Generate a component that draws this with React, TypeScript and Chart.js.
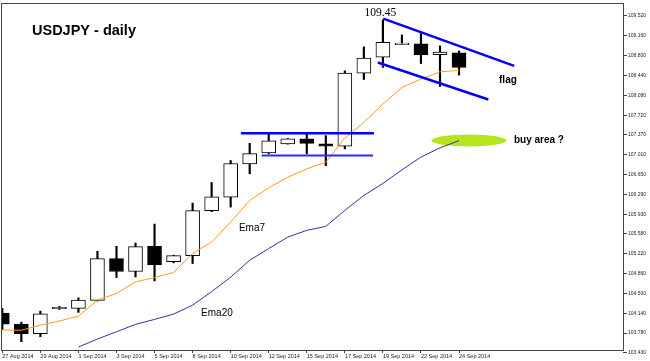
import React, { useEffect, useRef } from 'react';
import { Chart, registerables } from 'chart.js';

Chart.register(...registerables);

// ---- data ----
const dateTickIndex = [0, 2, 4, 6, 8, 10, 12, 14, 16, 18, 20, 22, 24];
const dateLabels = [
  '27 Aug 2014', '29 Aug 2014', '1 Sep 2014', '3 Sep 2014', '5 Sep 2014', '8 Sep 2014',
  '10 Sep 2014', '12 Sep 2014', '15 Sep 2014', '17 Sep 2014', '19 Sep 2014', '22 Sep 2014', '24 Sep 2014',
];
const priceTicks = [
  109.52, 109.16, 108.8, 108.44, 108.08, 107.72, 107.37, 107.01, 106.65,
  106.29, 105.93, 105.58, 105.22, 104.86, 104.5, 104.14, 103.78, 103.43,
];

const opens = [
  104.141, 103.942, 103.767, 104.22, 104.226, 104.37, 105.128, 104.894, 105.35, 105.074,
  105.182, 105.995, 106.24, 106.843, 107.042, 107.204, 107.294, 107.204, 107.161, 108.486,
  108.775, 109.0, 109.015, 108.821, 108.852,
];
const closes = [
  103.942, 103.767, 104.128, 104.23, 104.376, 105.128, 104.894, 105.345, 105.013, 105.182,
  105.995, 106.247, 106.849, 107.029, 107.258, 107.294, 107.215, 107.161, 108.486, 108.756,
  109.045, 109.03, 108.821, 108.865, 108.587,
];
const highs = [
  104.226, 103.978, 104.177, 104.262, 104.417, 105.26, 105.35, 105.41, 105.753, 105.19,
  106.132, 106.506, 106.903, 107.215, 107.385, 107.3, 107.385, 107.354, 108.527, 108.96,
  109.45, 109.177, 109.2, 108.978, 108.888,
];
const lows = [
  103.847, 103.623, 103.713, 104.208, 104.154, 104.36, 104.785, 104.796, 104.724, 105.05,
  105.038, 105.977, 106.06, 106.663, 107.024, 107.2, 107.024, 106.812, 107.114, 108.37,
  108.587, 109.0, 108.659, 108.244, 108.45,
];

const ema7 = [
  103.835, 103.83, 103.924, 103.997, 104.087, 104.376, 104.497, 104.706, 104.785, 104.876,
  105.219, 105.428, 105.789, 106.181, 106.41, 106.601, 106.753, 106.872, 107.312, 107.594,
  107.926, 108.226, 108.377, 108.509, 108.536,
];
const ema20Start = 4;
const ema20 = [
  103.527, 103.672, 103.803, 103.937, 104.027, 104.123, 104.285, 104.529, 104.791, 105.098,
  105.309, 105.518, 105.639, 105.711, 106.0, 106.271, 106.488, 106.735, 106.966, 107.132,
  107.264,
];

// annotation objects in data coordinates (bar index, price)
const trendLines = [
  { x1: 12.54, y1: 107.395, x2: 19.53, y2: 107.395, width: 2.5, color: '#0000ff' },
  { x1: 13.63, y1: 106.993, x2: 19.48, y2: 106.993, width: 2, color: '#2a2aff' },
  { x1: 20.02, y1: 109.471, x2: 26.9, y2: 108.617, width: 2.5, color: '#0000ff' },
  { x1: 19.73, y1: 108.677, x2: 25.54, y2: 108.009, width: 2.5, color: '#0000ff' },
];
const buyArea = { x1: 22.55, x2: 26.49, y1: 107.159, y2: 107.375, color: '#b5e61d' };
const notes = [
  { text: '109.45', x: 19.87, y: 109.574, font: '11.5px "Liberation Serif"' },
  { text: 'flag', x: 26.57, y: 108.356, font: 'bold 10px "Liberation Sans"' },
  { text: 'buy area ?', x: 28.2, y: 107.273, font: 'bold 10px "Liberation Sans"' },
  { text: 'Ema7', x: 13.12, y: 105.675, font: '10px "Liberation Sans"' },
  { text: 'Ema20', x: 11.28, y: 104.141, font: '10px "Liberation Sans"' },
];
const titleText = 'USDJPY - daily';

const overlayPlugin = {
  id: 'mt4Overlay',
  beforeDatasetsDraw(chart: any) {
    const { ctx, chartArea, scales } = chart;
    const xs = scales.x;
    const ys = scales.y;
    ctx.save();
    ctx.beginPath();
    ctx.rect(chartArea.left, chartArea.top, chartArea.right - chartArea.left, chartArea.bottom - chartArea.top);
    ctx.clip();
    const cx = xs.getPixelForValue((buyArea.x1 + buyArea.x2) / 2);
    const cy = ys.getPixelForValue((buyArea.y1 + buyArea.y2) / 2);
    const rx = Math.abs(xs.getPixelForValue(buyArea.x2) - xs.getPixelForValue(buyArea.x1)) / 2;
    const ry = Math.abs(ys.getPixelForValue(buyArea.y2) - ys.getPixelForValue(buyArea.y1)) / 2;
    ctx.beginPath();
    ctx.ellipse(cx, cy, rx, ry, 0, 0, Math.PI * 2);
    ctx.fillStyle = buyArea.color;
    ctx.fill();
    ctx.restore();
  },
  afterDatasetsDraw(chart: any) {
    const { ctx, chartArea, scales } = chart;
    const xs = scales.x;
    const ys = scales.y;
    ctx.save();
    ctx.beginPath();
    ctx.rect(chartArea.left, chartArea.top, chartArea.right - chartArea.left, chartArea.bottom - chartArea.top);
    ctx.clip();
    for (const l of trendLines) {
      ctx.beginPath();
      ctx.moveTo(xs.getPixelForValue(l.x1), ys.getPixelForValue(l.y1));
      ctx.lineTo(xs.getPixelForValue(l.x2), ys.getPixelForValue(l.y2));
      ctx.lineWidth = l.width;
      ctx.strokeStyle = l.color;
      ctx.stroke();
    }
    ctx.fillStyle = '#000';
    ctx.textAlign = 'center';
    ctx.textBaseline = 'middle';
    for (const n of notes) {
      ctx.font = n.font;
      ctx.fillText(n.text, xs.getPixelForValue(n.x), ys.getPixelForValue(n.y));
    }
    ctx.restore();
  },
  afterDraw(chart: any) {
    const { ctx, chartArea } = chart;
    ctx.save();
    ctx.strokeStyle = '#444';
    ctx.lineWidth = 1;
    const l = Math.round(chartArea.left) - 0.5;
    const t = Math.round(chartArea.top) - 0.5;
    const r = Math.round(chartArea.right) + 0.5;
    const b = Math.round(chartArea.bottom) + 0.5;
    ctx.strokeRect(l, t, r - l, b - t);
    ctx.fillStyle = '#000';
    ctx.font = 'bold 14.5px "Liberation Sans"';
    ctx.textAlign = 'left';
    ctx.textBaseline = 'alphabetic';
    ctx.fillText(titleText, 32, 35);
    ctx.restore();
  },
};

export default function App() {
  const ref = useRef<HTMLCanvasElement | null>(null);

  useEffect(() => {
    document.body.style.margin = '0';
    const canvas = ref.current;
    if (!canvas) return;
    const bodyColors = opens.map((o, i) => (closes[i] >= o ? '#ffffff' : '#000000'));
    const chart = new Chart(canvas, {
      type: 'bar',
      data: {
        datasets: [
          {
            type: 'line',
            label: 'Ema7',
            data: ema7.map((v, i) => ({ x: i, y: v })),
            borderColor: '#ff9a1a',
            borderWidth: 1,
            pointRadius: 0,
            tension: 0,
          } as any,
          {
            type: 'line',
            label: 'Ema20',
            data: ema20.map((v, k) => ({ x: k + ema20Start, y: v })),
            borderColor: '#3232a0',
            borderWidth: 1,
            pointRadius: 0,
            tension: 0,
          } as any,
          {
            type: 'bar',
            label: 'body',
            data: opens.map((o, i) => ({ x: i, y: [o, closes[i]] })),
            backgroundColor: bodyColors,
            borderColor: '#000000',
            borderWidth: 1,
            borderSkipped: false,
            barThickness: 14,
            grouped: false,
            minBarLength: 1.5,
          } as any,
          {
            type: 'bar',
            label: 'wick',
            data: lows.map((lo, i) => ({ x: i, y: [lo, highs[i]] })),
            backgroundColor: '#000000',
            borderWidth: 0,
            barThickness: 1.5,
            grouped: false,
          } as any,
        ],
      },
      options: {
        animation: false,
        responsive: false,
        maintainAspectRatio: false,
        events: [],
        layout: { padding: { left: 2, top: 3, right: 0, bottom: 0 } },
        plugins: {
          legend: { display: false },
          tooltip: { enabled: false },
        },
        scales: {
          x: {
            type: 'linear',
            min: -0.016,
            max: 32.617,
            offset: false,
            grid: { display: true, drawOnChartArea: false, drawTicks: true, tickLength: 3, color: '#444', offset: false },
            border: { display: false },
            ticks: {
              autoSkip: false,
              maxRotation: 0,
              minRotation: 0,
              align: 'start',
              padding: 0,
              color: '#222',
              font: { family: 'Liberation Sans', size: 5.5 },
              callback: (_v: any, i: number) => dateLabels[i],
            },
            afterBuildTicks: (s: any) => {
              s.ticks = dateTickIndex.map((v) => ({ value: v }));
            },
            afterFit: (s: any) => {
              s.height = 11;
            },
          } as any,
          y: {
            type: 'linear',
            position: 'right',
            min: 103.473,
            max: 109.737,
            grid: { display: true, drawOnChartArea: false, drawTicks: true, tickLength: 4, color: '#444' },
            border: { display: false },
            ticks: {
              padding: 1,
              color: '#222',
              font: { family: 'Liberation Sans', size: 5 },
              callback: (v: any) => Number(v).toFixed(3),
            },
            afterBuildTicks: (s: any) => {
              s.ticks = priceTicks.map((v) => ({ value: v }));
            },
            afterFit: (s: any) => {
              s.width = 27;
            },
          } as any,
        },
      } as any,
      plugins: [overlayPlugin],
    });
    return () => chart.destroy();
  }, []);

  return (
    <div style={{ position: 'fixed', left: 0, top: 0, width: 650, height: 361, background: '#fff' }}>
      <canvas ref={ref} width={650} height={361} style={{ display: 'block' }} />
    </div>
  );
}
